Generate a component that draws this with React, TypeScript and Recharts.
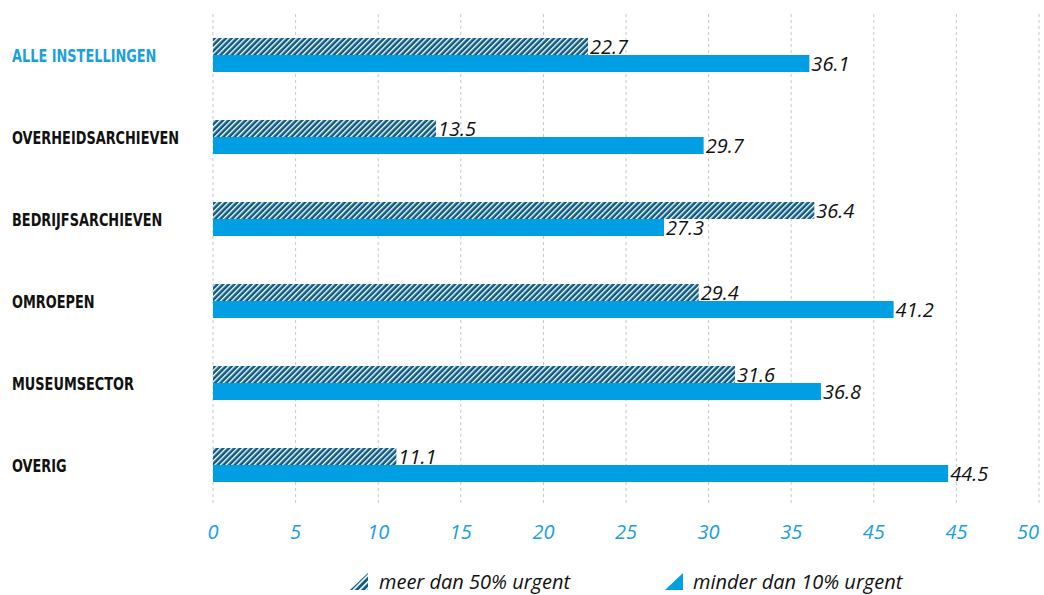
import React from "react";
import { BarChart, Bar, XAxis, YAxis, CartesianGrid, Legend, LabelList } from "recharts";

const categories = [
  "ALLE INSTELLINGEN",
  "OVERHEIDSARCHIEVEN",
  "BEDRIJFSARCHIEVEN",
  "OMROEPEN",
  "MUSEUMSECTOR",
  "OVERIG",
];
const meerDan50 = [22.7, 13.5, 36.4, 29.4, 31.6, 11.1];
const minderDan10 = [36.1, 29.7, 27.3, 41.2, 36.8, 44.5];
const tickValues = [0, 5, 10, 15, 20, 25, 30, 35, 40, 45, 50];
const tickLabels = ["0", "5", "10", "15", "20", "25", "30", "35", "45", "45", "50"];
const seriesNames = ["meer dan 50% urgent", "minder dan 10% urgent"];

const data = categories.map((name, i) => ({
  name,
  meer: meerDan50[i],
  minder: minderDan10[i],
}));

const DARK = "#0a5a84";
const BLUE = "#009fe3";
const TICK_BLUE = "#1aa0e0";

const YTick = (props: any) => {
  const { y, payload, index } = props;
  return (
    <text
      x={0}
      y={0}
      dy="0.36em"
      transform={`translate(12, ${y}) scale(0.775, 1)`}
      textAnchor="start"
      fontFamily="'DejaVu Sans Condensed', 'DejaVu Sans', sans-serif"
      fontWeight={700}
      fontSize={18.5}
      fill={index === 0 ? TICK_BLUE : "#111"}
    >
      {payload.value}
    </text>
  );
};

const XTick = (props: any) => {
  const { x, y, index } = props;
  const last = index === tickValues.length - 1;
  return (
    <text
      x={x}
      y={y + 25}
      textAnchor={last ? "end" : "middle"}
      fontFamily="'Open Sans', sans-serif"
      fontStyle="italic"
      fontSize={20}
      fill={TICK_BLUE}
    >
      {tickLabels[index]}
    </text>
  );
};

const ValueLabel = (props: any) => {
  const { x, y, width, height, value } = props;
  return (
    <text
      x={x + width + 2}
      y={y + height / 2}
      dy="0.36em"
      textAnchor="start"
      fontFamily="'Open Sans', sans-serif"
      fontStyle="italic"
      fontSize={20}
      fill="#111"
    >
      {value}
    </text>
  );
};

const LegendContent = () => (
  <div
    style={{
      height: 40,
      boxSizing: "border-box",
      paddingTop: 13,
      paddingLeft: 350,
      display: "flex",
      alignItems: "center",
      fontFamily: "'Open Sans', sans-serif",
      fontStyle: "italic",
      fontSize: 20,
      color: "#111",
      width: 1044,
    }}
  >
    <svg width={18} height={17} style={{ marginRight: 11 }}>
      <defs>
        <pattern id="hatchLegend" width={4.5} height={4.5} patternUnits="userSpaceOnUse" patternTransform="rotate(45)">
          <rect width={4.5} height={4.5} fill={DARK} />
          <rect width={1.6} height={4.5} fill="#fff" />
        </pattern>
      </defs>
      <polygon points="0,17 18,17 18,0" fill="url(#hatchLegend)" />
    </svg>
    <span style={{ lineHeight: "22px" }}>{seriesNames[0]}</span>
    <svg width={18} height={17} style={{ marginLeft: 95, marginRight: 10 }}>
      <polygon points="0,17 18,17 18,0" fill={BLUE} />
    </svg>
    <span style={{ lineHeight: "22px" }}>{seriesNames[1]}</span>
  </div>
);

export default function App() {
  return (
    <div style={{ position: "absolute", left: 0, top: 0, width: 1044, height: 595, background: "#fff" }}>
      <BarChart
        width={1044}
        height={595}
        data={data}
        layout="vertical"
        margin={{ top: 14, right: 5, bottom: 0, left: 0 }}
        barGap={0}
      >
        <defs>
          <pattern id="hatch" width={4} height={4} patternUnits="userSpaceOnUse" patternTransform="rotate(45)">
            <rect width={4} height={4} fill={DARK} />
            <rect width={1.4} height={4} fill="#fff" />
          </pattern>
        </defs>
        <CartesianGrid horizontal={false} stroke="#c8c8c8" strokeDasharray="3 3" />
        <XAxis
          type="number"
          domain={[0, 50]}
          ticks={tickValues}
          interval={0}
          axisLine={false}
          tickLine={false}
          height={49}
          tick={<XTick />}
        />
        <YAxis
          type="category"
          dataKey="name"
          width={213}
          axisLine={false}
          tickLine={false}
          interval={0}
          tick={<YTick />}
        />
        <Legend verticalAlign="bottom" align="left" content={<LegendContent />} wrapperStyle={{ left: 0, width: 1044 }} />
        <Bar dataKey="meer" name={seriesNames[0]} fill="url(#hatch)" barSize={17} isAnimationActive={false}>
          <LabelList dataKey="meer" content={<ValueLabel />} />
        </Bar>
        <Bar dataKey="minder" name={seriesNames[1]} fill={BLUE} barSize={17} isAnimationActive={false}>
          <LabelList dataKey="minder" content={<ValueLabel />} />
        </Bar>
      </BarChart>
    </div>
  );
}
